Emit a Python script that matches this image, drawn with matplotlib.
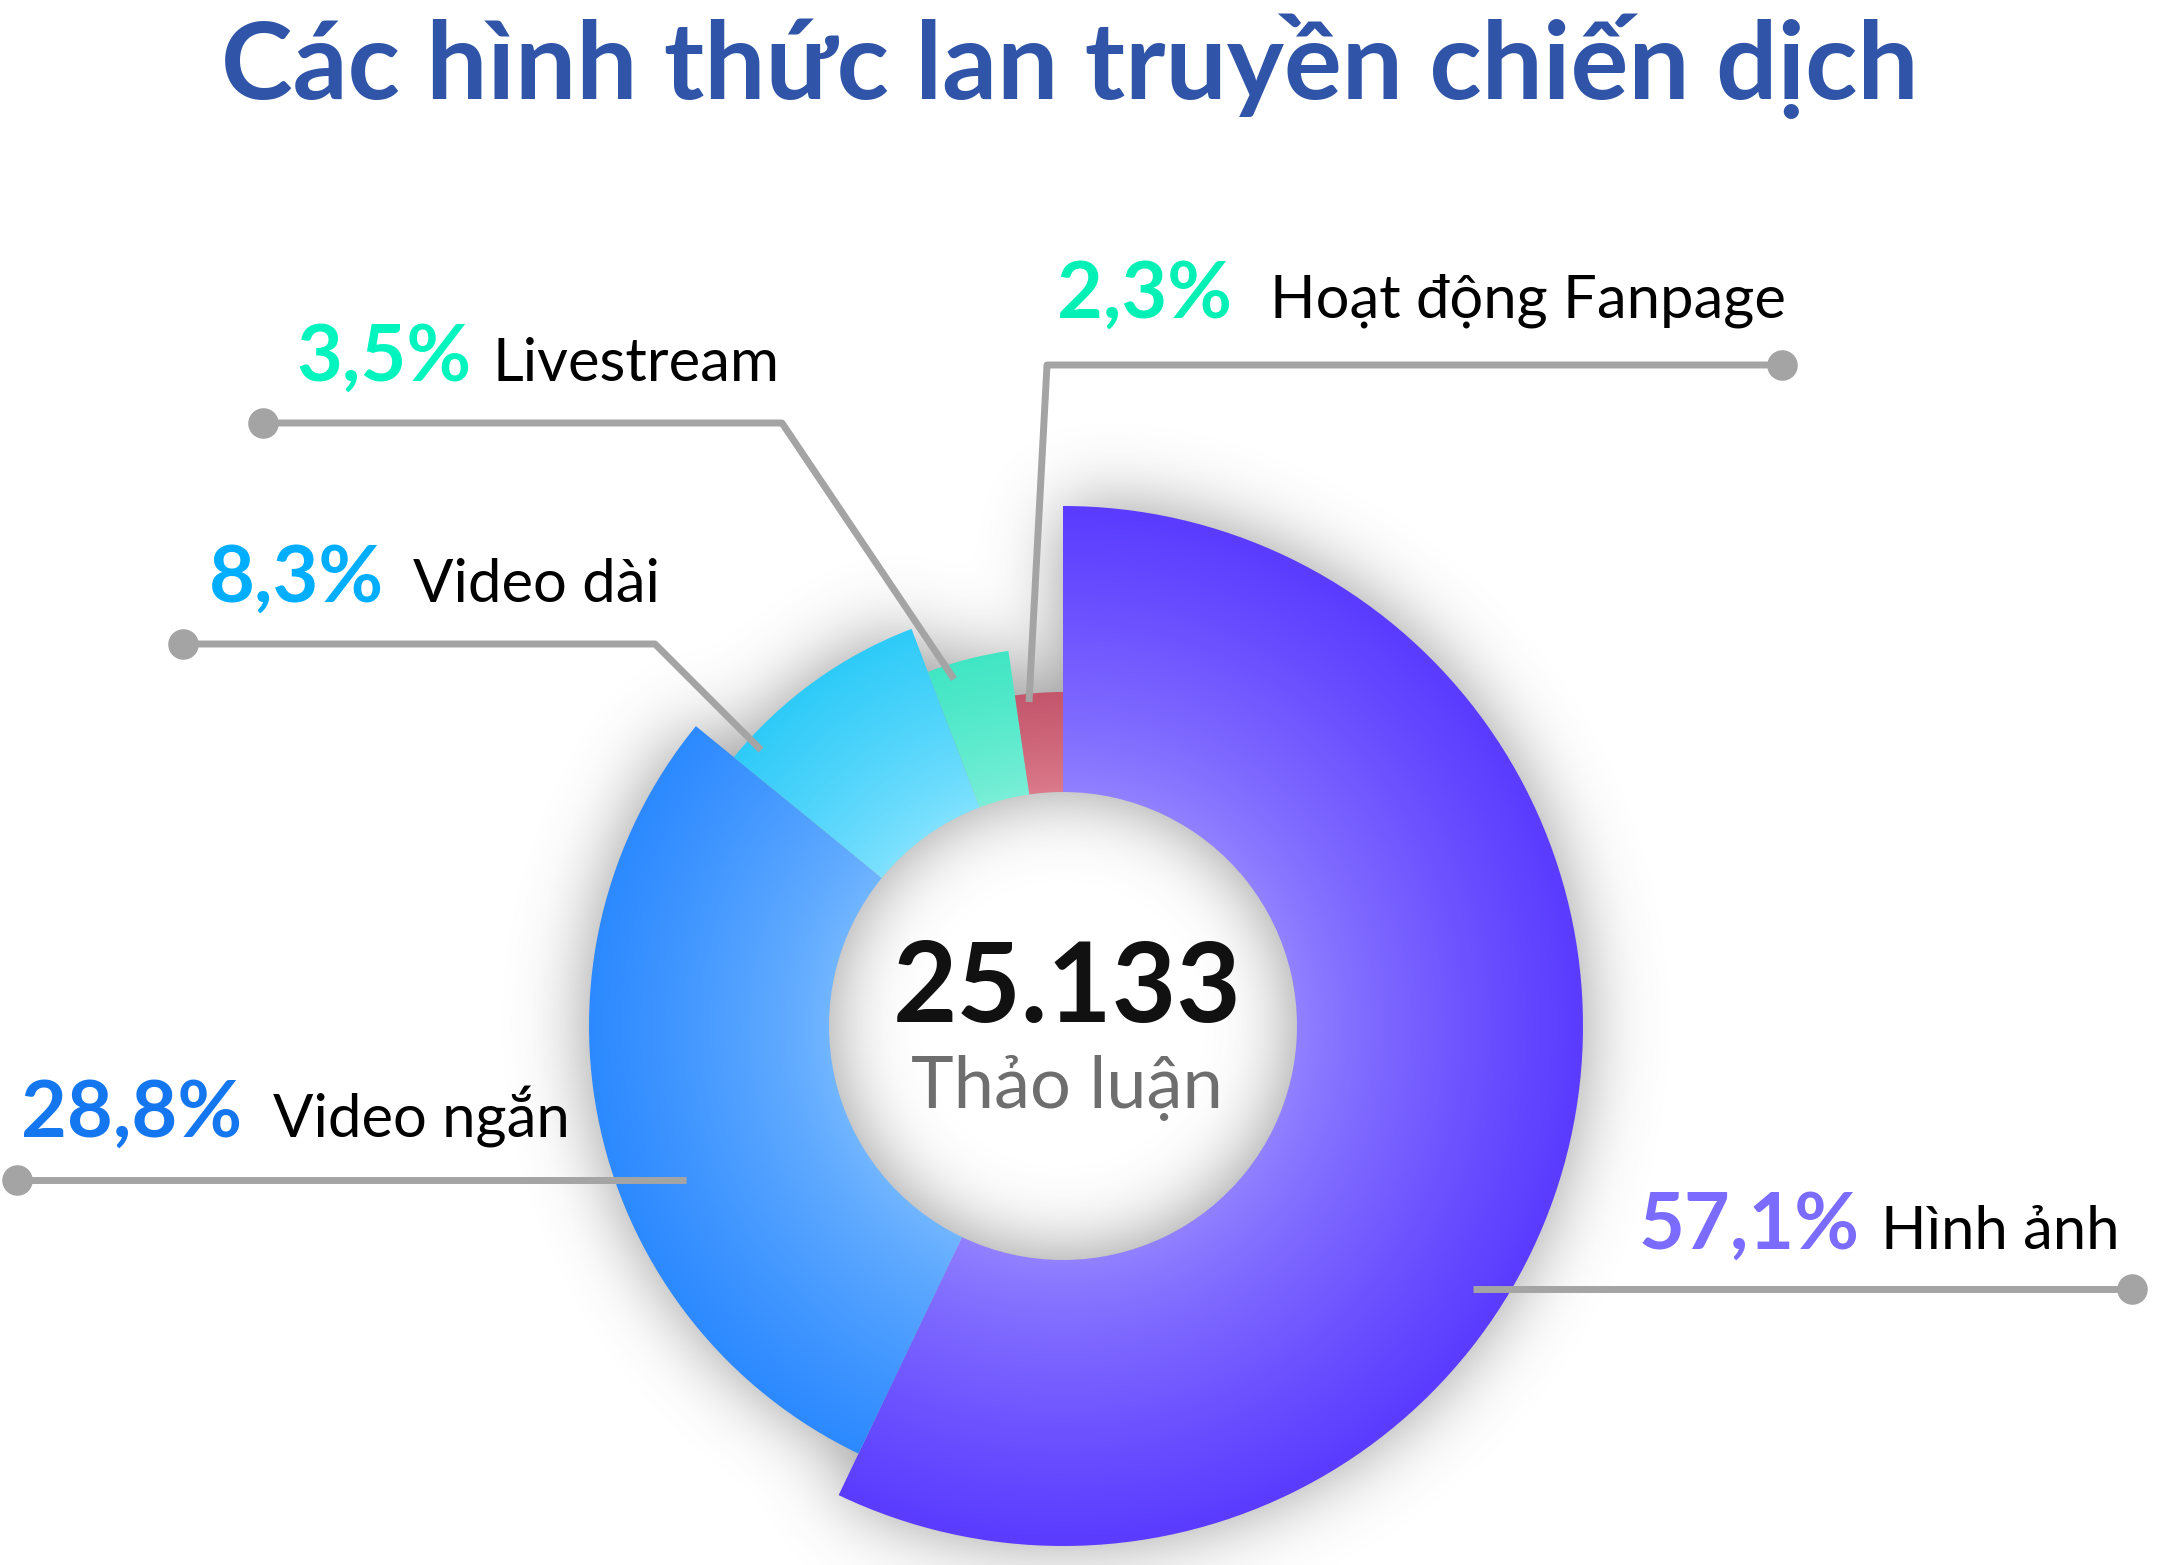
import numpy as np
import matplotlib
matplotlib.use('Agg')
import matplotlib.pyplot as plt
from matplotlib.patches import Wedge
from matplotlib.colors import to_rgb

plt.rcParams['font.family'] = ['Lato', 'Roboto', 'DejaVu Sans']

# data
categories = ['Hình ảnh', 'Video ngắn', 'Video dài', 'Livestream', 'Hoạt động Fanpage']
shares = [57.1, 28.8, 8.3, 3.5, 2.3]
total = 25133
center_label = 'Thảo luận'
title = 'Các hình thức lan truyền chiến dịch'

# style / layout (pixel coords, y down)
W, H = 2159, 1565
cx, cy = 1063, 1026
r_in = 234
r_out = [520, 474, 425, 379, 334]
inner_cols = ['#9282FF', '#72B6FF', '#82E2FF', '#7CEFD8', '#DC7C8C']
outer_cols = ['#5A3BFF', '#2C89FF', '#2ECBF8', '#40E6C4', '#C4566C']
pct_cols = ['#7B6BFF', '#1577F0', '#00AEFF', '#00F5BE', '#00F0B5']
pct_xy = [(1639, 1249), (21, 1137), (209, 602), (296, 381), (1057, 318)]
name_x = [1881, 273, 413, 492, 1270]
leaders = [
    [(2132, 1289), (1473, 1289)],
    [(17, 1180), (686, 1180)],
    [(183, 644), (655, 644), (761, 750)],
    [(263, 423), (782, 423), (954, 679)],
    [(1782, 365), (1047, 365), (1029, 702)],
]
line_col = '#A4A4A4'

fig = plt.figure(figsize=(W / 100, H / 100), dpi=100)
ax = fig.add_axes([0, 0, 1, 1])
ax.set_xlim(0, W)
ax.set_ylim(H, 0)
ax.axis('off')

# angles clockwise from top
edges = np.concatenate([[0], np.cumsum(shares) / np.sum(shares) * 360])

# soft shadow from blurred donut mask
step = 4
gx = np.arange(0, W, step) + step / 2
gy = np.arange(0, H, step) + step / 2
X, Y = np.meshgrid(gx, gy)
R = np.hypot(X - cx, Y - cy)
A = (np.degrees(np.arctan2(Y - cy, X - cx)) + 90) % 360
idx = np.clip(np.searchsorted(edges, A, side='right') - 1, 0, len(shares) - 1)
mask = ((R >= r_in) & (R <= np.array(r_out)[idx])).astype(float)


def blur(a, s):
    k = np.exp(-0.5 * (np.arange(-3 * s, 3 * s + 1) / s) ** 2)
    k /= k.sum()
    a = np.apply_along_axis(lambda v: np.convolve(v, k, mode='same'), 0, a)
    a = np.apply_along_axis(lambda v: np.convolve(v, k, mode='same'), 1, a)
    return a


sh = blur(mask, 9)
shadow = np.zeros((len(gy), len(gx), 4))
shadow[..., :3] = 0.33
shadow[..., 3] = np.clip(0.6 * sh, 0, 1)
ax.imshow(shadow, extent=[0, W, H, 0], origin='upper', aspect='auto',
          interpolation='bilinear', zorder=1)

# wedges with radial gradient
for i in range(len(shares)):
    ro = r_out[i]
    x0, x1 = cx - ro, cx + ro
    y0, y1 = cy - ro, cy + ro
    xs = np.arange(x0, x1, 2) + 1
    ys = np.arange(y0, y1, 2) + 1
    XX, YY = np.meshgrid(xs, ys)
    t = np.clip((np.hypot(XX - cx, YY - cy) - r_in) / (ro - r_in), 0, 1) ** 0.8
    c0 = np.array(to_rgb(inner_cols[i]))
    c1 = np.array(to_rgb(outer_cols[i]))
    img = c0 + (c1 - c0) * t[..., None]
    w = Wedge((cx, cy), ro, -90 + edges[i], -90 + edges[i + 1], width=ro - r_in,
              facecolor='none', edgecolor='none')
    ax.add_patch(w)
    im = ax.imshow(img, extent=[x0, x1, y1, y0], origin='upper', aspect='auto',
                   interpolation='bilinear', zorder=2)
    im.set_clip_path(w)

# leader lines
for pts in leaders:
    xs_, ys_ = zip(*pts)
    ax.plot(xs_, ys_, color=line_col, lw=5, solid_capstyle='butt', zorder=3)
    ax.plot(xs_[0], ys_[0], 'o', color=line_col, ms=21, zorder=3)

# labels
for i, cat in enumerate(categories):
    pct = f'{shares[i]:.1f}%'.replace('.', ',')
    px, py = pct_xy[i]
    ax.text(px, py, pct, color=pct_cols[i], fontsize=57, fontweight='bold',
            ha='left', va='baseline', zorder=4)
    ax.text(name_x[i], py, cat, color='black', fontsize=43,
            ha='left', va='baseline', zorder=4)

# center
ax.text(1067, 1022, f'{total:,}'.replace(',', '.'), color='#111111', fontsize=80,
        fontweight='bold', ha='center', va='baseline', zorder=4)
ax.text(1067, 1108, center_label, color='#6E6E6E', fontsize=52,
        ha='center', va='baseline', zorder=4)

# title
ax.text(1070, 99, title, color='#2F54A8', fontsize=78, fontweight='bold',
        ha='center', va='baseline', zorder=4)

fig.savefig('out.png', dpi=100, facecolor='white')
